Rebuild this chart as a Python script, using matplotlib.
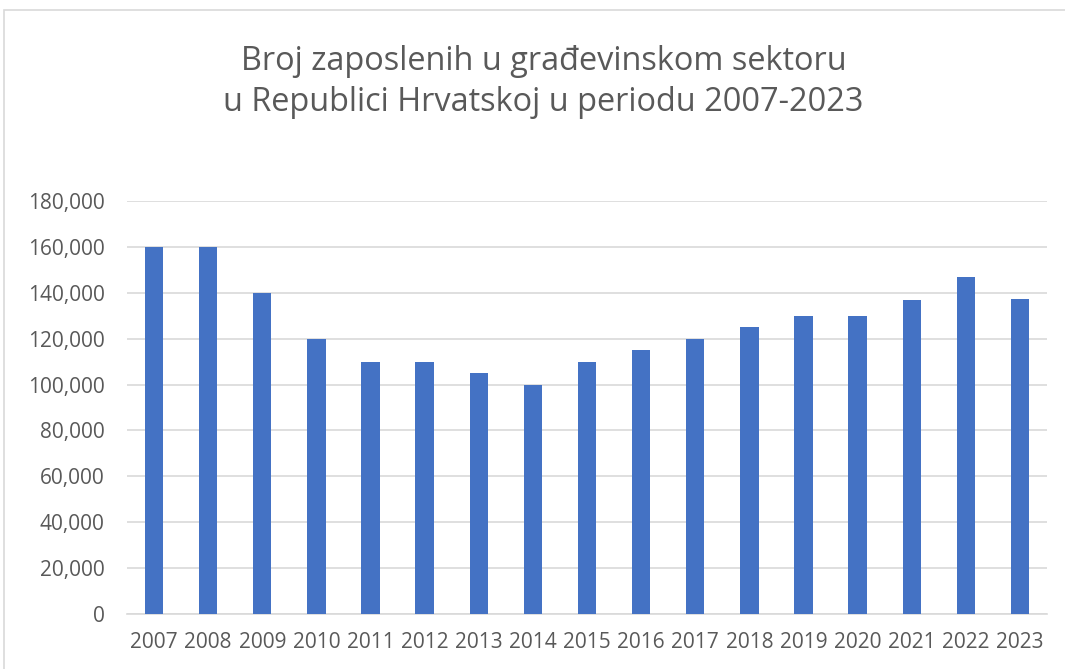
import matplotlib.pyplot as plt
from matplotlib.ticker import FuncFormatter
from matplotlib.patches import Rectangle

# ------------- DATA -----------------
years = ["2007", "2008", "2009", "2010", "2011", "2012", "2013", "2014", "2015",
         "2016", "2017", "2018", "2019", "2020", "2021", "2022", "2023"]
employed = [160000, 160000, 140000, 120000, 110000, 110000, 105000, 100000, 110000,
            115000, 120000, 125000, 130000, 130000, 137000, 147000, 137500]
title = "Broj zaposlenih u građevinskom sektoru\nu Republici Hrvatskoj u periodu 2007-2023"
# ------------------------------------

plt.rcParams["font.family"] = ["Open Sans", "DejaVu Sans"]
text_color = "#595959"

fig = plt.figure(figsize=(10.65, 6.69), dpi=100)
ax = fig.add_axes([127 / 1065, 1 - 614 / 669, (1047 - 127) / 1065, (614 - 201) / 669])

x = range(len(years))
ax.bar(x, employed, width=0.34, color="#4472c4", zorder=3)

ax.set_xlim(-0.5, len(years) - 0.5)
ax.set_ylim(0, 180000)
ax.set_yticks(range(0, 180001, 20000))
ax.yaxis.set_major_formatter(FuncFormatter(lambda v, p: f"{int(v):,}"))
ax.set_xticks(list(x))
ax.set_xticklabels(years)

ax.grid(axis="y", color="#d9d9d9", linewidth=1.2, zorder=0)
for s in ["top", "right", "left"]:
    ax.spines[s].set_visible(False)
ax.spines["bottom"].set_color("#d9d9d9")
ax.spines["bottom"].set_linewidth(1.2)
ax.tick_params(axis="both", length=0, labelsize=15, colors=text_color)
ax.tick_params(axis="x", pad=13)
ax.tick_params(axis="y", pad=16)

fig.text(0.5 + 11 / 1065, 1 - 82 / 669, title, ha="center", va="center", fontsize=23.4,
         color=text_color, linespacing=1.3)

# chart border
fig.patches.append(Rectangle((4 / 1065, -0.01), 1.1, 1 - 10 / 669 + 0.01,
                             transform=fig.transFigure, fill=False,
                             edgecolor="#d9d9d9", linewidth=1.2))

plt.savefig("out.png", dpi=100)
plt.close()
